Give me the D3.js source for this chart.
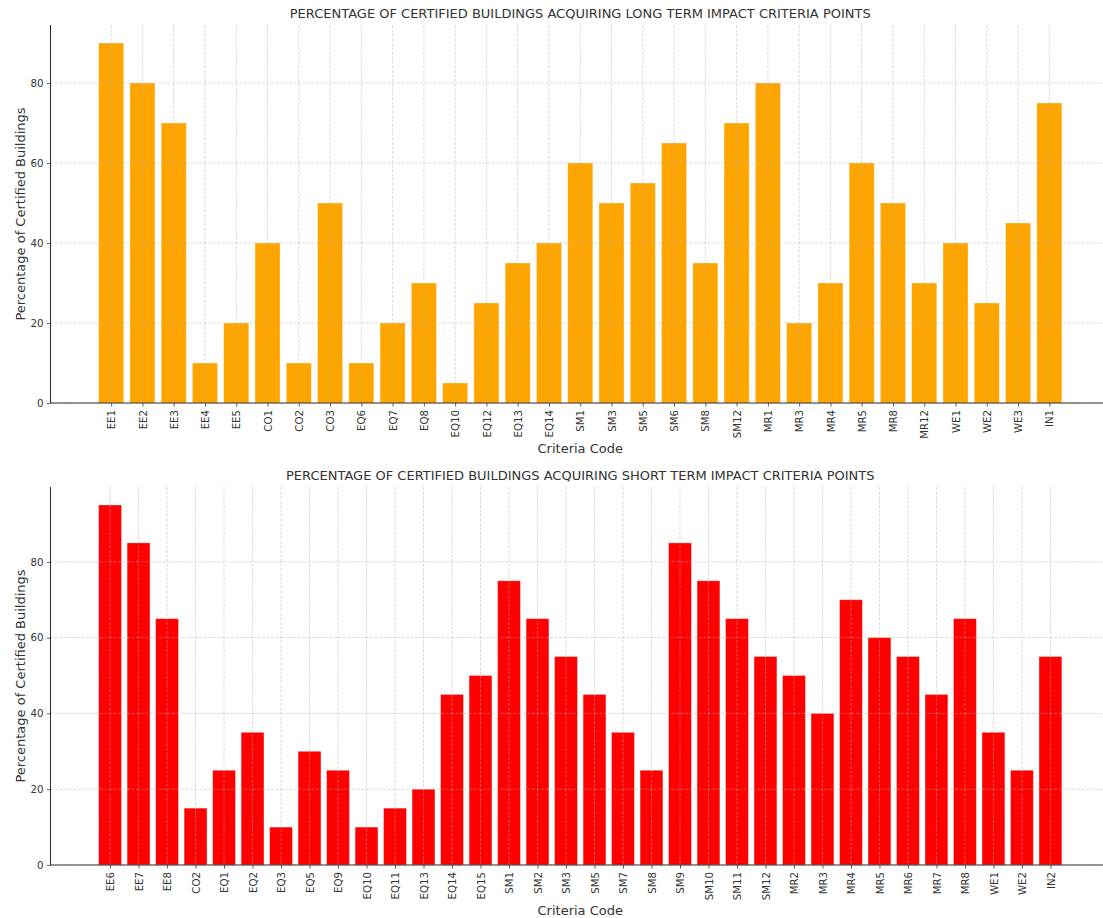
<!DOCTYPE html>
<html>
<head>
<meta charset="utf-8">
<script src="https://cdn.jsdelivr.net/npm/d3@7"></script>
<style>
  html, body { margin: 0; padding: 0; background: #fff; }
  svg { display: block; font-family: "DejaVu Sans", sans-serif; }
</style>
</head>
<body>
<svg id="chart" width="1103" height="918"></svg>
<script>
const longCategories = ["EE1","EE2","EE3","EE4","EE5","CO1","CO2","CO3","EQ6","EQ7","EQ8","EQ10","EQ12","EQ13","EQ14","SM1","SM3","SM5","SM6","SM8","SM12","MR1","MR3","MR4","MR5","MR8","MR12","WE1","WE2","WE3","IN1"];
const longValues = [90,80,70,10,20,40,10,50,10,20,30,5,25,35,40,60,50,55,65,35,70,80,20,30,60,50,30,40,25,45,75];

const shortCategories = ["EE6","EE7","EE8","CO2","EQ1","EQ2","EQ3","EQ5","EQ9","EQ10","EQ11","EQ13","EQ14","EQ15","SM1","SM2","SM3","SM5","SM7","SM8","SM9","SM10","SM11","SM12","MR2","MR3","MR4","MR5","MR6","MR7","MR8","WE1","WE2","IN2"];
const shortValues = [95,85,65,15,25,35,10,30,25,10,15,20,45,50,75,65,55,45,35,25,85,75,65,55,50,40,70,60,55,45,65,35,25,55];

const yTicks = [0,20,40,60,80];

const titles = [
  "PERCENTAGE OF CERTIFIED BUILDINGS ACQUIRING LONG TERM IMPACT CRITERIA POINTS",
  "PERCENTAGE OF CERTIFIED BUILDINGS ACQUIRING SHORT TERM IMPACT CRITERIA POINTS"
];
const xLabel = "Criteria Code";
const yLabel = "Percentage of Certified Buildings";

const svg = d3.select("#chart");
const textColor = "#333";

function drawPanel(cats, vals, color, title, top, bottom) {
  const left = 50.5, right = 1110;
  const n = cats.length;
  const bw = 0.8;
  const lo = -bw / 2, hi = n - 1 + bw / 2;
  const m = (hi - lo) * 0.05;
  const x = d3.scaleLinear().domain([lo - m, hi + m]).range([left, right]);
  const ymax = d3.max(vals) * 1.05;
  const y = d3.scaleLinear().domain([0, ymax]).range([bottom, top]);

  const g = svg.append("g");

  // bars
  g.append("g").selectAll("rect").data(vals).join("rect")
    .attr("x", (d, i) => x(i - bw / 2))
    .attr("width", x(bw) - x(0))
    .attr("y", d => y(d))
    .attr("height", d => y(0) - y(d))
    .attr("fill", color)
    .attr("stroke", "rgba(255,255,255,0.35)")
    .attr("stroke-width", 0.8);

  // grid (on top of bars)
  const grid = g.append("g")
    .attr("stroke", "#b0b0b0")
    .attr("stroke-opacity", 0.6)
    .attr("stroke-width", 0.8)
    .attr("stroke-dasharray", "3,1.5");
  grid.selectAll("line.v").data(cats).join("line")
    .attr("class", "v")
    .attr("x1", (d, i) => x(i)).attr("x2", (d, i) => x(i))
    .attr("y1", top).attr("y2", bottom);
  grid.selectAll("line.h").data(yTicks).join("line")
    .attr("class", "h")
    .attr("x1", left).attr("x2", right)
    .attr("y1", d => y(d)).attr("y2", d => y(d));

  // x axis
  const xAxis = d3.axisBottom(x)
    .tickValues(d3.range(n))
    .tickFormat(i => cats[i])
    .tickSize(3.5)
    .tickPadding(3.5);
  const xg = g.append("g").attr("transform", `translate(0,${bottom})`).call(xAxis);
  xg.select(".domain").remove();
  xg.selectAll(".tick line").attr("stroke", textColor).attr("stroke-width", 0.8);
  xg.selectAll(".tick text")
    .attr("fill", textColor)
    .attr("font-size", 10.2)
    .attr("font-family", "DejaVu Sans, sans-serif")
    .attr("text-anchor", "end")
    .attr("transform", "rotate(-90)")
    .attr("x", -7)
    .attr("y", 0)
    .attr("dy", "0.35em");

  // y axis
  const yAxis = d3.axisLeft(y).tickValues(yTicks).tickSize(3.5).tickPadding(3.5);
  const yg = g.append("g").attr("transform", `translate(${left},0)`).call(yAxis);
  yg.select(".domain").remove();
  yg.selectAll(".tick line").attr("stroke", textColor).attr("stroke-width", 0.8);
  yg.selectAll(".tick text")
    .attr("fill", textColor)
    .attr("font-size", 10.2)
    .attr("font-family", "DejaVu Sans, sans-serif");

  // spines (left and bottom)
  g.append("line").attr("x1", left).attr("x2", left).attr("y1", top).attr("y2", bottom)
    .attr("stroke", textColor).attr("stroke-width", 1.1);
  g.append("line").attr("x1", left).attr("x2", right).attr("y1", bottom).attr("y2", bottom)
    .attr("stroke", textColor).attr("stroke-width", 1.1);

  // title
  g.append("text")
    .attr("x", (left + right) / 2).attr("y", top - 7)
    .attr("text-anchor", "middle")
    .attr("fill", textColor)
    .attr("font-size", 13)
    .text(title);

  // x label
  g.append("text")
    .attr("x", (left + right) / 2).attr("y", bottom + 50)
    .attr("text-anchor", "middle")
    .attr("fill", textColor)
    .attr("font-size", 13)
    .text(xLabel);

  // y label
  g.append("text")
    .attr("transform", `translate(25,${(top + bottom) / 2}) rotate(-90)`)
    .attr("text-anchor", "middle")
    .attr("fill", textColor)
    .attr("font-size", 13)
    .text(yLabel);
}

drawPanel(longCategories, longValues, "#FFA500", titles[0], 25, 403);
drawPanel(shortCategories, shortValues, "#FF0000", titles[1], 487, 865);
</script>
</body>
</html>
